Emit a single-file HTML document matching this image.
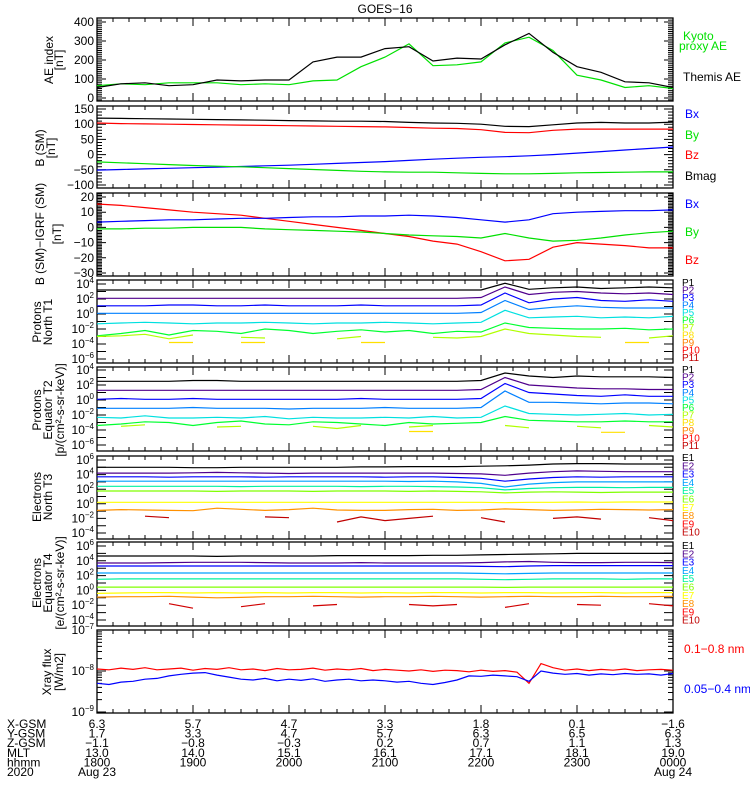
<!DOCTYPE html>
<html><head><meta charset="utf-8"><style>
html,body{margin:0;padding:0;background:#fff;}
svg{display:block;font-family:"Liberation Sans",sans-serif;}
</style></head><body>
<svg id="chart" width="750" height="800" viewBox="0 0 750 800" xmlns="http://www.w3.org/2000/svg">
<text x="385" y="13" font-size="12" text-anchor="middle">GOES−16</text>
<g id="g"></g>
</svg>
<script>
// ---- data (15-minute resolution, 1800-0000 UT) ----
const hourLabels=["1800","1900","2000","2100","2200","2300","0000"];
const xgsm=["6.3","5.7","4.7","3.3","1.8","0.1","−1.6"];
const ygsm=["1.7","3.3","4.7","5.7","6.3","6.5","6.3"];
const zgsm=["−1.1","−0.8","−0.3","0.2","0.7","1.1","1.3"];
const mlt=["13.0","14.0","15.1","16.1","17.1","18.1","19.0"];
const aeThemis=[55,75,80,65,70,95,90,95,95,190,215,215,260,270,195,210,205,280,340,240,165,135,85,80,55];
const aeKyoto=[65,75,70,80,80,80,70,75,70,90,95,165,215,285,170,175,190,290,320,250,120,95,55,65,50];
const bBmag=[120,119,118,117,116,115,114,113,112,111,110,110,109,106,104,103,100,93,92,98,104,106,104,104,107];
const bBz=[104,102,101,100,99,98,97,96,95,94,93,92,91,89,87,86,82,73,72,80,84,84,84,84,84];
const bBx=[-51,-49,-47,-45,-43,-41,-39,-37,-35,-32,-29,-26,-23,-19,-15,-12,-9,-7,-4,0,5,10,15,20,25];
const bBy=[-24,-27,-30,-33,-36,-38,-40,-43,-46,-49,-52,-55,-57,-58,-58,-60,-62,-63,-63,-62,-60,-59,-58,-57,-57];
const dBz=[15.4,14.5,13,11.5,10,9,8,6,4,2,0,-2,-4,-6,-9,-11,-16,-22,-21,-13,-10,-11,-12,-13.5,-13.5];
const dBx=[3.5,4,4.5,5,5,5.5,6,6,6.5,7,7,7.5,7.5,8,7.5,6.5,5,3.5,5,9,10,10.5,11,11,11.5];
const dBy=[-1,-1,-0.5,-0.5,0,0,0,-1,-1.5,-2,-2.5,-3,-4,-5,-5.5,-6,-7,-4,-7,-9,-8.5,-7,-5,-3.5,-2.5];
// Protons North T1 (log10 flux)
const t1p1=[3.2,3.2,3.2,3.2,3.2,3.2,3.2,3.2,3.2,3.2,3.2,3.2,3.2,3.2,3.2,3.2,3.2,4.1,3.3,3.5,3.6,3.4,3.5,3.6,3.5];
const t1p2=[2.1,2.1,2.1,2.1,2.1,2.1,2.1,2.1,2.1,2.1,2.1,2.1,2.1,2.1,2.1,2.1,2.2,3.6,2.6,2.9,3.0,2.8,2.7,2.8,2.6];
const t1p3=[1.1,1.1,1.1,1.2,1.2,1.1,1.1,1.2,1.1,1.1,1.1,1.2,1.1,1.1,1.1,1.1,1.2,2.8,1.5,2.0,2.2,1.8,1.7,1.9,1.7];
const t1p4=[0.1,0.1,0.1,0.1,0.1,0.1,0.1,0.1,0.1,0.1,0.1,0.1,0.1,0.1,0.1,0.1,0.2,1.8,0.6,0.9,1.1,0.9,0.8,0.8,0.8];
const t1p5=[-1.3,-1.2,-1.1,-1.2,-1.3,-1.2,-1.2,-1.1,-1.2,-1.3,-1.2,-1.2,-1.1,-1.2,-1.3,-1.2,-1.1,0.5,-0.5,-0.4,-0.3,-0.5,-0.4,-0.5,-0.3];
const t1p6=[-2.9,-2.6,-2.2,-2.8,-2.2,-2.3,-2.6,-2.0,-2.2,-2.6,-2.3,-2.1,-2.4,-2.2,-2.6,-2.3,-2.4,-1.2,-1.8,-1.9,-2.0,-2.0,-1.9,-2.1,-2.0];
const t1p7=[-3.0,-2.9,-2.7,-3.3,-2.8,null,-3.1,-3.2,null,null,-3.3,-3.0,null,null,-3.1,-3.2,-3.0,-2.0,-2.6,-2.8,-3.0,-3.1,null,-3.2,-2.9];
const t1p8=[null,null,null,-3.8,-3.8,null,-3.8,-3.8,null,null,null,-3.8,-3.8,null,null,null,null,null,null,null,null,null,-3.8,-3.8,null];
// Protons Equator T2
const t2p1=[2.5,2.5,2.5,2.5,2.6,2.6,2.5,2.5,2.5,2.5,2.5,2.5,2.5,2.5,2.5,2.5,2.6,3.6,3.2,3.0,3.2,3.1,3.1,3.1,3.0];
const t2p2=[1.3,1.3,1.3,1.3,1.3,1.3,1.3,1.3,1.3,1.3,1.3,1.3,1.3,1.3,1.3,1.3,1.4,3.0,2.0,1.8,1.6,1.5,1.5,1.4,1.4];
const t2p3=[0.1,0.2,0.1,0.1,0.2,0.1,0.1,0.1,0.1,0.1,0.1,0.2,0.1,0.1,0.1,0.1,0.2,2.2,1.0,0.8,0.6,0.5,0.7,0.5,0.5];
const t2p4=[-1.1,-1.1,-1.1,-1.1,-1.0,-1.1,-1.1,-1.1,-1.2,-1.1,-1.1,-1.1,-1.0,-1.1,-1.1,-1.1,-1.0,1.2,-0.3,-0.3,-0.4,-0.5,-0.4,-0.4,-0.5];
const t2p5=[-2.3,-2.4,-2.1,-2.4,-2.4,-2.3,-2.4,-2.2,-2.5,-2.3,-2.4,-2.4,-2.3,-2.4,-2.2,-2.4,-2.3,-0.8,-1.8,-1.9,-2.0,-1.9,-1.8,-2.0,-1.9];
const t2p6=[-3.4,-3.2,-2.9,-3.0,-3.4,-3.0,-2.8,-3.2,-3.3,-2.9,-3.0,-3.2,-3.4,-3.0,-3.2,-3.1,-3.0,-2.2,-2.7,-2.8,-2.9,-2.9,-2.8,-2.9,-2.9];
const t2p7=[null,-3.5,-3.3,null,null,-3.6,-3.5,null,null,-3.5,-3.8,-3.4,null,-3.6,-3.4,null,null,-3.4,-3.7,null,-3.5,-3.7,null,-3.4,-3.6];
const t2p8=[null,null,null,null,null,null,null,null,null,null,null,null,null,-4.2,-4.2,null,null,null,null,null,null,-4.3,-4.3,null,null];
// Electrons North T3
const t3e1=[5.0,5.0,5.0,5.0,4.95,4.95,5.0,5.0,5.0,5.0,5.0,5.05,5.05,5.1,5.1,5.1,5.15,5.2,5.3,5.45,5.5,5.5,5.45,5.45,5.45];
const t3e2=[4.2,4.2,4.2,4.2,4.25,4.3,4.25,4.2,4.15,4.2,4.2,4.2,4.2,4.2,4.2,4.15,4.1,3.9,4.2,4.4,4.5,4.45,4.4,4.4,4.4];
const t3e3=[3.7,3.7,3.7,3.65,3.7,3.7,3.7,3.65,3.7,3.7,3.7,3.7,3.65,3.7,3.7,3.6,3.5,3.1,3.4,3.6,3.7,3.65,3.7,3.7,3.7];
const t3e4=[3.1,3.1,3.1,3.1,3.1,3.1,3.1,3.1,3.1,3.1,3.1,3.1,3.1,3.05,3.1,3.0,2.8,2.3,2.7,2.9,3.0,3.0,3.0,3.0,3.0];
const t3e5=[2.4,2.4,2.4,2.4,2.4,2.4,2.35,2.4,2.4,2.4,2.4,2.35,2.4,2.4,2.35,2.3,2.2,1.9,2.1,2.2,2.25,2.25,2.2,2.25,2.25];
const t3e6=[1.75,1.75,1.75,1.75,1.75,1.7,1.75,1.75,1.75,1.7,1.75,1.75,1.75,1.7,1.75,1.7,1.65,1.5,1.6,1.65,1.6,1.55,1.6,1.6,1.6];
const t3e7=[0.2,0.2,0.2,0.2,0.2,0.2,0.2,0.2,0.2,0.2,0.2,0.2,0.2,0.2,0.2,0.2,0.2,0.15,0.2,0.2,0.25,0.2,0.25,0.25,0.25];
const t3e8=[-0.9,-0.8,-0.85,-0.9,-0.95,-0.6,-0.75,-0.9,-0.8,-0.6,-0.85,-0.9,-0.9,-0.8,-0.75,-0.9,-0.85,-0.7,-0.8,-0.9,-0.85,-0.75,-0.8,-0.85,-0.8];
const t3e10=[null,null,-1.7,-1.9,null,null,null,-1.8,-1.9,null,-2.5,-1.8,-2.3,-2.0,-1.7,null,-1.9,-2.5,null,-2.0,-1.8,-2.1,null,-1.9,-2.3];
// Electrons Equator T4
const t4e1=[4.65,4.65,4.65,4.65,4.65,4.6,4.65,4.65,4.65,4.65,4.7,4.7,4.7,4.7,4.75,4.75,4.8,4.85,4.9,4.95,5.0,5.0,5.0,5.0,5.0];
const t4e2=[3.7,3.7,3.7,3.75,3.8,3.8,3.8,3.75,3.7,3.7,3.7,3.75,3.7,3.7,3.7,3.7,3.75,3.85,3.9,3.8,3.75,3.75,3.8,3.8,3.75];
const t4e3=[3.3,3.3,3.3,3.3,3.3,3.3,3.3,3.3,3.3,3.3,3.3,3.3,3.3,3.3,3.3,3.3,3.25,3.2,3.3,3.35,3.35,3.35,3.35,3.35,3.35];
const t4e4=[2.35,2.35,2.35,2.35,2.35,2.35,2.35,2.35,2.35,2.35,2.35,2.35,2.35,2.35,2.35,2.35,2.3,2.25,2.3,2.35,2.35,2.35,2.35,2.35,2.35];
const t4e5=[1.5,1.55,1.55,1.55,1.55,1.55,1.55,1.55,1.55,1.55,1.55,1.55,1.55,1.55,1.55,1.55,1.5,1.45,1.5,1.55,1.55,1.55,1.5,1.55,1.55];
const t4e6=[0.45,0.45,0.45,0.45,0.45,0.45,0.45,0.45,0.45,0.45,0.45,0.45,0.45,0.45,0.45,0.45,0.45,0.4,0.45,0.45,0.45,0.45,0.45,0.45,0.45];
const t4e7=[-0.4,-0.35,-0.3,-0.3,-0.35,-0.3,-0.35,-0.3,-0.35,-0.3,-0.3,-0.35,-0.3,-0.35,-0.3,-0.3,-0.35,-0.3,-0.3,-0.35,-0.3,-0.3,-0.35,-0.3,-0.3];
const t4e8=[-0.9,-0.85,-0.85,-0.8,-0.9,-1.0,-0.95,-0.85,-0.85,-0.8,-0.85,-0.9,-0.85,-0.85,-0.8,-0.85,-0.9,-0.85,-0.8,-0.85,-0.85,-0.8,-0.85,-0.85,-0.8];
const t4e9=[null,null,null,-1.8,-2.4,null,-2.2,-1.8,null,-2.1,-1.9,null,null,-1.9,-2.1,-1.9,null,-2.3,-1.8,null,-1.9,-2.0,null,-1.8,-2.1];
// X-ray flux log10 (7.5-min resolution)
const xrayLong=[-7.95,-7.97,-7.93,-7.96,-7.92,-7.97,-7.95,-7.93,-7.98,-7.94,-7.96,-7.92,-7.97,-7.95,-7.99,-7.94,-7.97,-7.96,-7.93,-7.98,-7.95,-7.97,-7.94,-7.99,-7.96,-7.98,-8.0,-7.97,-8.01,-7.98,-7.99,-8.02,-7.98,-8.01,-7.99,-8.03,-8.3,-7.82,-7.92,-7.98,-7.95,-7.99,-7.96,-7.98,-7.95,-7.99,-7.97,-7.96,-7.98];
const xrayShort=[-8.3,-8.33,-8.27,-8.25,-8.2,-8.18,-8.12,-8.08,-8.05,-8.04,-8.1,-8.15,-8.2,-8.22,-8.18,-8.24,-8.2,-8.23,-8.19,-8.25,-8.22,-8.2,-8.24,-8.22,-8.24,-8.27,-8.25,-8.3,-8.33,-8.28,-8.22,-8.12,-8.13,-8.1,-8.12,-8.14,-8.25,-8.0,-8.05,-8.08,-8.06,-8.1,-8.07,-8.09,-8.06,-8.08,-8.07,-8.1,-8.06];

// ---- layout ----
const NS="http://www.w3.org/2000/svg";
const G=document.getElementById('g');
const X0=97,X1=673;
function xAt(frac){return X0+frac*(X1-X0);}
function el(tag,attrs,parent){const e=document.createElementNS(NS,tag);for(const k in attrs)e.setAttribute(k,attrs[k]);(parent||G).appendChild(e);return e;}
function mkScale(v1,y1,v2,y2){const k=(y2-y1)/(v2-v1);return v=>y1+(v-v1)*k;}

const panels=[
 {top:18,bot:101,y:mkScale(0,98,400,22)},
 {top:106,bot:188,y:mkScale(150,109,-100,185)},
 {top:193,bot:276,y:mkScale(20,197,-30,273)},
 {top:280,bot:363,y:mkScale(4,284,-6,359)},
 {top:367,bot:451,y:mkScale(4,370,-6,445)},
 {top:456,bot:539,y:mkScale(6,460,-4,533)},
 {top:542,bot:626,y:mkScale(6,546,-4,620)},
 {top:630,bot:713,y:mkScale(-7,630,-9,712)}
];

function drawSeries(vals,p,color,name){
  const n=vals.length;let d="";let pen=false;
  for(let i=0;i<n;i++){const v=vals[i];
    if(v===null){pen=false;continue;}
    const x=xAt(i/(n-1)),y=Math.max(p.top,Math.min(p.bot,p.y(v)));
    d+=(pen?"L":"M")+x.toFixed(1)+" "+y.toFixed(1);pen=true;}
  const path=el('path',{d:d,fill:"none",stroke:color,"stroke-width":"1.2"});
  
  
}
function frame(p,i){
  const r=el('rect',{x:X0,y:p.top,width:X1-X0,height:p.bot-p.top,fill:"none",stroke:"#000","stroke-width":"1.3"});
  
  
  let d="";
  for(let m=0;m<=360;m+=10){const x=xAt(m/360);const L=(m%60===0)?8:4;
    d+=`M${x} ${p.bot}v${-L}M${x} ${p.top}v${L}`;}
  el('path',{d:d,stroke:"#000","stroke-width":"1"});
}
function yTick(p,v,L){const y=p.y(v);return `M${X0} ${y}h${L}M${X1} ${y}h${-L}`;}
function label(txt,x,y,color,anchor,name,size){
  const t=el('text',{x:x,y:y,fill:color||"#000","font-size":size||12,"text-anchor":anchor||"start"});
  t.textContent=txt;
  
  
  return t;
}
function powLabel(exp,x,y,name){
  const t=el('text',{x:x,y:y,"font-size":12,"text-anchor":"end"});
  t.textContent="10";
  const s=el('tspan',{dy:-5,"font-size":8},t);
  s.textContent=(exp<0?"−":"")+Math.abs(exp);
  
  
}
function rotTitle(lines,xs,yc,name){
  lines.forEach((ln,i)=>{
    const t=el('text',{x:0,y:0,"font-size":12,"text-anchor":"middle",transform:`translate(${xs[i]},${yc}) rotate(-90)`});
    t.textContent=ln;
    
    
  });
}

panels.forEach(frame);

// Linear panel ticks
function linTicks(p,from,to,minor,major,labels,name){
  let d="";
  for(let v=from;v<=to+1e-9;v+=minor){d+=yTick(p,v,Math.abs(v%major)<1e-6?9:5);}
  el('path',{d:d,stroke:"#000","stroke-width":"1"});
  labels.forEach(v=>label((v<0?"−":"")+Math.abs(v),94,p.y(v)+4,"#000","end",name+'-tick-'+v));
}
linTicks(panels[0],-10,410,10,100,[0,100,200,300,400],'ae-y');
linTicks(panels[1],-110,150,10,50,[150,100,50,0,-50,-100],'b-y');
linTicks(panels[2],-32,22,1,10,[20,10,0,-10,-20,-30],'db-y');
function logTicks(p,exps,lo,hi,name){
  let d="";for(let e=lo;e<=hi;e++){d+=yTick(p,e,9);}
  el('path',{d:d,stroke:"#000","stroke-width":"1"});
  exps.forEach(e=>powLabel(e,94,p.y(e)+4,name+'-tick-'+e));
}
logTicks(panels[3],[4,2,0,-2,-4,-6],-6,4,'t1-y');
logTicks(panels[4],[4,2,0,-2,-4,-6],-6,4,'t2-y');
logTicks(panels[5],[6,4,2,0,-2,-4],-4,6,'t3-y');
logTicks(panels[6],[6,4,2,0,-2,-4],-4,6,'t4-y');
(function(){const p=panels[7];let d="";
  for(let e=-9;e<-7;e++){for(let k=1;k<10;k++){d+=yTick(p,e+Math.log10(k),k===1?9:5);}}
  d+=yTick(p,-7,9);
  el('path',{d:d,stroke:"#000","stroke-width":"1"});
  [-7,-8,-9].forEach(e=>powLabel(e,94,p.y(e)+4,'xray-y-tick-'+e));})();

// Series
drawSeries(aeKyoto,panels[0],"#00e000",'kyoto-ae-line');
drawSeries(aeThemis,panels[0],"#000",'themis-ae-line');
drawSeries(bBmag,panels[1],"#000",'bmag-line');
drawSeries(bBz,panels[1],"#ff0000",'bz-line');
drawSeries(bBx,panels[1],"#0000ff",'bx-line');
drawSeries(bBy,panels[1],"#00e000",'by-line');
drawSeries(dBz,panels[2],"#ff0000",'dbz-line');
drawSeries(dBx,panels[2],"#0000ff",'dbx-line');
drawSeries(dBy,panels[2],"#00e000",'dby-line');
const pCol=["#000000","#50008c","#0000ff","#0080ff","#00e0e0","#00ff30","#b0ff00","#ffe000","#ff8000","#ff0000","#c00000"];
const eCol=["#000000","#50008c","#0000ff","#00a0ff","#00f0a0","#80ff00","#ffff00","#ff9000","#ff0000","#c00000"];
[t1p1,t1p2,t1p3,t1p4,t1p5,t1p6,t1p7,t1p8].forEach((s,i)=>drawSeries(s,panels[3],pCol[i],'t1-p'+(i+1)+'-line'));
[t2p1,t2p2,t2p3,t2p4,t2p5,t2p6,t2p7,t2p8].forEach((s,i)=>drawSeries(s,panels[4],pCol[i],'t2-p'+(i+1)+'-line'));
[t3e1,t3e2,t3e3,t3e4,t3e5,t3e6,t3e7,t3e8].forEach((s,i)=>drawSeries(s,panels[5],eCol[i],'t3-e'+(i+1)+'-line'));
drawSeries(t3e10,panels[5],"#c00000",'t3-e10-line');
[t4e1,t4e2,t4e3,t4e4,t4e5,t4e6,t4e7,t4e8].forEach((s,i)=>drawSeries(s,panels[6],eCol[i],'t4-e'+(i+1)+'-line'));
drawSeries(t4e9,panels[6],"#d00000",'t4-e9-line');
drawSeries(xrayLong,panels[7],"#ff0000",'xray-long-line');
drawSeries(xrayShort,panels[7],"#0000ff",'xray-short-line');

// Legends
label("Kyoto",683,40,"#00e000","start",'legend-kyoto');
label("proxy AE",679,50,"#00e000","start",'legend-proxy-ae');
label("Themis AE",683,81,"#000","start",'legend-themis-ae');
label("Bx",685,118,"#0000ff","start",'legend-b-bx');
label("By",685,139,"#00e000","start",'legend-b-by');
label("Bz",685,159,"#ff0000","start",'legend-b-bz');
label("Bmag",685,180,"#000","start",'legend-bmag');
label("Bx",685,208,"#0000ff","start",'legend-db-bx');
label("By",685,236,"#00e000","start",'legend-db-by');
label("Bz",685,264,"#ff0000","start",'legend-db-bz');
for(let i=0;i<11;i++){label("P"+(i+1),682,286+i*7.5,pCol[i],"start",'legend-t1-p'+(i+1),10);}
for(let i=0;i<11;i++){label("P"+(i+1),682,373+i*7.6,pCol[i],"start",'legend-t2-p'+(i+1),10);}
for(let i=0;i<10;i++){label("E"+(i+1),682,461+i*8.3,eCol[i],"start",'legend-t3-e'+(i+1),10);}
for(let i=0;i<10;i++){label("E"+(i+1),682,549+i*8.3,eCol[i],"start",'legend-t4-e'+(i+1),10);}
label("0.1−0.8 nm",684,653,"#ff0000","start",'legend-xray-long');
label("0.05−0.4 nm",684,693,"#0000ff","start",'legend-xray-short');

// Axis titles
rotTitle(["AE index","[nT]"],[53,63],60,'ae-title');
rotTitle(["B (SM)","[nT]"],[44,55],148,'b-title');
rotTitle(["B (SM)−IGRF (SM)","[nT]"],[44,61],234,'db-title');
rotTitle(["Protons","North T1"],[41,52],322,'t1-title');
rotTitle(["Protons","Equator T2","[p/(cm²-s-sr-keV)]"],[41,52,64],410,'t2-title');
rotTitle(["Electrons","North T3"],[41,52],497,'t3-title');
rotTitle(["Electrons","Equator T4","[e/(cm²-s-sr-keV)]"],[41,52,64],583,'t4-title');
rotTitle(["Xray flux","[W/m2]"],[51,63],672,'xray-title');

// Ephemeris table
const rows=[["X-GSM",xgsm],["Y-GSM",ygsm],["Z-GSM",zgsm],["MLT",mlt],["hhmm",hourLabels]];
rows.forEach((r,ri)=>{
  const y=728+ri*9.6;
  label(r[0],7,y,"#000","start",'row-label-'+r[0].toLowerCase());
  r[1].forEach((v,i)=>label(v,xAt(i/6),y,"#000","middle",'row-'+r[0].toLowerCase()+'-'+i));
});
label("2020",7,776,"#000","start",'year-label');
label("Aug 23",X0,776,"#000","middle",'date-start');
label("Aug 24",X1,776,"#000","middle",'date-end');
</script>
</body></html>
